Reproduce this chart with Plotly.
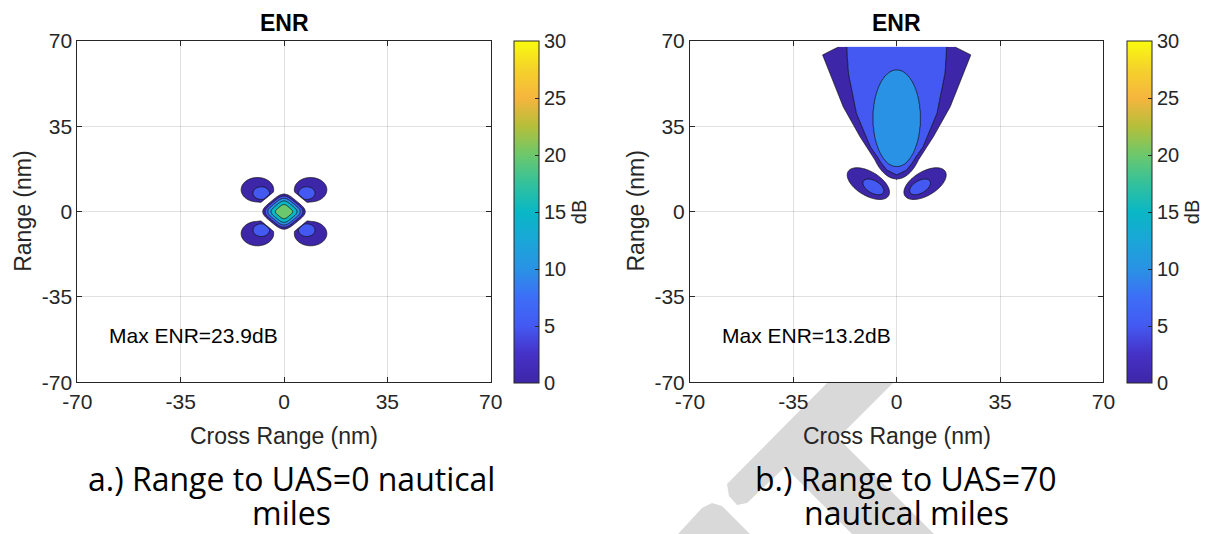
import numpy as np
import plotly.graph_objects as go

W, H = 1205, 534

# ---------------- values ----------------
AXIS_TICKS = [-70, -35, 0, 35, 70]
AXIS_TICK_TEXT = ["-70", "-35", "0", "35", "70"]
CB_TICKS = [0, 5, 10, 15, 20, 25, 30]
CB_RANGE = [0, 30]
LEVEL_START, LEVEL_END, LEVEL_STEP = 0, 25, 5
MAX_ENR_DB = [23.9, 13.2]
PANEL_TITLES = ["ENR", "ENR"]
CAPTION_A = ["a.) Range to UAS=0 nautical", "miles"]
CAPTION_B = ["b.) Range to UAS=70", "nautical miles"]

# parula colour anchors (dB value, colour)
PARULA_DB = [0, 2.5, 5, 7.5, 10, 12.5, 15, 17.5, 20, 22.5, 25, 27.5, 30]
PARULA_HEX = ["#3e26a8", "#4531c6", "#4459f2", "#3d6ef8", "#2a92e4", "#1aa6d8",
              "#09b7c5", "#33c19c", "#6cc86c", "#b5bf3a", "#f6b53e", "#f5d22b", "#f9fb0e"]

# panel a (UAS at 0 nm): diamond main lobe
A_MAIN_PEAK = 23.9
A_MAIN_EDGE = 6.05
A_MAIN_SQUARENESS = 4
# panel a: four diagonal side lobes
A_LOBE_CX = [9.0, -9.0, -9.0, 9.0]
A_LOBE_CY = [9.0, 9.0, -9.0, -9.0]
A_LOBE_RX, A_LOBE_RY, A_LOBE_PEAK = 5.5, 5.0, 4.5
A_SPOT_CX = [7.7, -7.7, -7.7, 7.7]
A_SPOT_CY = [7.6, 7.6, -7.6, -7.6]
A_SPOT_RX5, A_SPOT_RY5, A_SPOT_PEAK = 2.8, 2.6, 9.5
A_LOBE_CUT = 8.2

# panel b (UAS at 70 nm): shield-shaped main beam
B_Y_0DB = [13.2, 17.0, 21.1, 30.7, 43.0, 56.7, 64.3, 67.7]
B_HALFW_0DB = [0.0, 4.6, 7.3, 12.4, 18.1, 22.6, 25.1, 19.5]
B_Y_5DB = [15.0, 17.0, 26.6, 40.3, 56.7, 67.7]
B_HALFW_5DB = [0.0, 3.4, 9.0, 13.7, 16.4, 17.0]
B_Y_AXIS = [0.0, 13.2, 15.0, 20.0, 67.7]
B_ENR_AXIS = [-15.0, 0.0, 5.0, 9.5, 9.5]
B_CORE_CY, B_CORE_RX, B_CORE_RY, B_CORE_PEAK = 38.3, 8.1, 19.9, 13.2
# panel b: two lower side lobes
B_LOBE_CX = [-9.6, 9.6]
B_LOBE_CY = [11.5, 11.5]
B_LOBE_ANG = [-40, 40]
B_LOBE_A, B_LOBE_B, B_LOBE_PEAK = 8.5, 4.6, 4.5
B_SPOT_CX = [-7.9, 7.9]
B_SPOT_CY = [10.15, 10.15]
B_SPOT_A5, B_SPOT_B5, B_SPOT_PEAK = 4.15, 2.4, 9.5
B_Y_TOP = 67.7

# watermark pieces (pixel outline)
WM_POLYS = [
    [(827, 383), (893, 383), (838, 438), (934, 534), (852, 534), (785, 467),
     (747, 503), (737, 505), (729, 496), (727, 484)],
    [(678, 534), (702, 508), (712, 503), (722, 506), (750, 534)],
]

FONT = "Liberation Sans, Arial, sans-serif"
CAP_FONT = "Open Sans, Noto Sans, sans-serif"
TXT = "#262626"


def parula(v):
    t = np.interp(v, PARULA_DB, np.arange(len(PARULA_DB)))
    i = int(min(np.floor(t), len(PARULA_HEX) - 2))
    f = t - i
    c0 = np.array([int(PARULA_HEX[i][k:k + 2], 16) for k in (1, 3, 5)])
    c1 = np.array([int(PARULA_HEX[i + 1][k:k + 2], 16) for k in (1, 3, 5)])
    c = np.round(c0 + (c1 - c0) * f).astype(int)
    return f"rgb({c[0]},{c[1]},{c[2]})"


PARULA_CS = [[d / CB_RANGE[1], h] for d, h in zip(PARULA_DB, PARULA_HEX)]
levels = list(range(LEVEL_START, LEVEL_END + 1, LEVEL_STEP))
nc = len(levels)
FILL_CS = [[0.0, "rgba(255,255,255,0)"]] + [[(k + 1) / nc, parula(lv)] for k, lv in enumerate(levels)]


def ellipse_field(X, Y, cx, cy, a, b, peak, ang_deg=0.0):
    t = np.deg2rad(ang_deg)
    dx, dy = X - cx, Y - cy
    u = dx * np.cos(t) + dy * np.sin(t)
    v = -dx * np.sin(t) + dy * np.cos(t)
    return peak * (1 - (u / a) ** 2 - (v / b) ** 2)


def zero_radius(r5, peak):
    return r5 / np.sqrt(1 - 5.0 / peak)


# ---------------- panel a field ----------------
xa = np.round(np.arange(-18, 18.0001, 0.15), 3)
ya = np.round(np.arange(-18, 18.0001, 0.15), 3)
XA, YA = np.meshgrid(xa, ya)
U = (XA + YA) / np.sqrt(2)
V = (XA - YA) / np.sqrt(2)
n = A_MAIN_SQUARENESS
R = (np.abs(U) ** n + np.abs(V) ** n) ** (1.0 / n)
za = A_MAIN_PEAK * (1 - (R / A_MAIN_EDGE) ** 2)
for k in range(4):
    lobe = ellipse_field(XA, YA, A_LOBE_CX[k], A_LOBE_CY[k], A_LOBE_RX, A_LOBE_RY, A_LOBE_PEAK)
    spot = ellipse_field(XA, YA, A_SPOT_CX[k], A_SPOT_CY[k],
                         zero_radius(A_SPOT_RX5, A_SPOT_PEAK), zero_radius(A_SPOT_RY5, A_SPOT_PEAK),
                         A_SPOT_PEAK)
    d = (XA * np.sign(A_LOBE_CX[k]) + YA * np.sign(A_LOBE_CY[k])) / np.sqrt(2)
    side = np.minimum(np.maximum(lobe, spot), 20 * (d - A_LOBE_CUT))
    za = np.maximum(za, side)
za = np.round(np.maximum(za, -20), 2)

# ---------------- panel b field ----------------
xb = np.round(np.arange(-30, 30.0001, 0.25), 3)
yb = np.round(np.arange(0.1, B_Y_TOP + 0.001, 0.25), 3)
XB, YB = np.meshgrid(xb, yb)
AX = np.abs(XB)
W0 = np.interp(YB, B_Y_0DB, B_HALFW_0DB, left=0.0)
W5 = np.interp(YB, B_Y_5DB, B_HALFW_5DB, left=0.0)
C = np.interp(YB, B_Y_AXIS, B_ENR_AXIS)
eps = 1e-6
inner = C - (C - 5) * AX / np.maximum(W5, eps)
outer = 5 * (W0 - AX) / np.maximum(W0 - W5, eps)
hi = np.where(AX < W5, inner, outer)
mid = C * (1 - AX / np.maximum(W0, eps))
lo = C - AX
zb = np.where(C > 5, hi, np.where(C > 0, mid, lo))
q = (XB / B_CORE_RX) ** 2 + ((YB - B_CORE_CY) / B_CORE_RY) ** 2
core = np.where(q <= 1, 10 + (B_CORE_PEAK - 10) * (1 - q), 10 - 40 * (np.sqrt(q) - 1))
zb = np.maximum(zb, core)
for k in range(2):
    lobe = ellipse_field(XB, YB, B_LOBE_CX[k], B_LOBE_CY[k], B_LOBE_A, B_LOBE_B, B_LOBE_PEAK, B_LOBE_ANG[k])
    spot = ellipse_field(XB, YB, B_SPOT_CX[k], B_SPOT_CY[k],
                         zero_radius(B_SPOT_A5, B_SPOT_PEAK), zero_radius(B_SPOT_B5, B_SPOT_PEAK),
                         B_SPOT_PEAK, B_LOBE_ANG[k])
    zb = np.maximum(zb, np.maximum(lobe, spot))
zb = np.round(np.maximum(zb, -20), 2)

# ---------------- figure ----------------
fig = go.Figure()
contour_style = dict(
    contours=dict(start=LEVEL_START, end=LEVEL_END, size=LEVEL_STEP, coloring="fill", showlines=True),
    autocontour=False, colorscale=FILL_CS, showscale=False,
    line=dict(color="#141414", width=0.8), hoverinfo="skip",
)
fig.add_trace(go.Contour(x=xa, y=ya, z=za.tolist(), xaxis="x", yaxis="y", **contour_style))
fig.add_trace(go.Contour(x=xb, y=yb, z=zb.tolist(), xaxis="x2", yaxis="y2", **contour_style))

PLOT_L = [77.3, 690.0]
PLOT_R = [490.7, 1103.4]
PLOT_T, PLOT_B = 41.0, 382.3
CB_X = [514.0, 1126.7]

for i, (xr, yr) in enumerate([("x", "y"), ("x2", "y2")]):
    fig.add_trace(go.Scatter(
        x=[None], y=[None], xaxis=xr, yaxis=yr, mode="markers", showlegend=False, hoverinfo="skip",
        marker=dict(color=[0], cmin=CB_RANGE[0], cmax=CB_RANGE[1], colorscale=PARULA_CS, showscale=True,
                    colorbar=dict(
                        x=CB_X[i] / W, xanchor="left", xpad=0, xref="paper",
                        y=1 - (PLOT_B + 0.7) / H, yanchor="bottom", ypad=0, yref="paper",
                        len=(PLOT_B - PLOT_T + 1) / H, lenmode="fraction",
                        thickness=25, thicknessmode="pixels",
                        outlinewidth=1, outlinecolor=TXT,
                        tickvals=CB_TICKS, ticktext=[str(t) for t in CB_TICKS],
                        ticks="inside", ticklen=4, tickcolor=TXT, tickwidth=1,
                        tickfont=dict(family=FONT, size=20, color=TXT),
                        title=dict(text="dB", side="right", font=dict(family=FONT, size=20, color=TXT)),
                    ))))

axis_common = dict(
    range=[-70, 70], tickmode="array", tickvals=AXIS_TICKS, ticktext=AXIS_TICK_TEXT,
    ticks="inside", ticklen=5, tickwidth=1, tickcolor=TXT,
    showline=True, linecolor=TXT, linewidth=1, mirror="ticks",
    showgrid=True, gridcolor="rgba(38,38,38,0.14)", gridwidth=1, zeroline=False,
    layer="above traces",
    tickfont=dict(family=FONT, size=21, color=TXT), fixedrange=True,
)
ydom = [1 - PLOT_B / H, 1 - PLOT_T / H]
fig.update_layout(
    width=W, height=H,
    margin=dict(l=0, r=0, t=0, b=0, autoexpand=False),
    paper_bgcolor="white", plot_bgcolor="white",
    showlegend=False, hovermode=False,
    xaxis=dict(domain=[PLOT_L[0] / W, PLOT_R[0] / W], anchor="y", **axis_common),
    yaxis=dict(domain=ydom, anchor="x", **axis_common),
    xaxis2=dict(domain=[PLOT_L[1] / W, PLOT_R[1] / W], anchor="y2", **axis_common),
    yaxis2=dict(domain=ydom, anchor="x2", **axis_common),
)

# watermark
shapes = []
for poly in WM_POLYS:
    path = "M " + " L ".join(f"{x / W:.5f},{1 - y / H:.5f}" for x, y in poly) + " Z"
    shapes.append(dict(type="path", path=path, xref="paper", yref="paper",
                       fillcolor="#d9d9d9", line=dict(width=0), layer="below"))
fig.update_layout(shapes=shapes)

ann = []
centers = [(PLOT_L[i] + PLOT_R[i]) / 2 for i in range(2)]
for i in range(2):
    cx = centers[i]
    ann.append(dict(text=f"<b>{PANEL_TITLES[i]}</b>", x=cx / W, y=1 - 23 / H, xref="paper", yref="paper",
                    showarrow=False, xanchor="center", yanchor="middle",
                    font=dict(family=FONT, size=23, color="black")))
    ann.append(dict(text="Cross Range (nm)", x=cx / W, y=1 - 436 / H, xref="paper", yref="paper",
                    showarrow=False, xanchor="center", yanchor="middle",
                    font=dict(family=FONT, size=23, color=TXT)))
    ann.append(dict(text="Range (nm)", x=(PLOT_L[i] - 55) / W, y=1 - 211.5 / H, xref="paper", yref="paper",
                    showarrow=False, xanchor="center", yanchor="middle", textangle=-90,
                    font=dict(family=FONT, size=23, color=TXT)))
    xr = "x" if i == 0 else "x2"
    yr = "y" if i == 0 else "y2"
    ann.append(dict(text=f"Max ENR={MAX_ENR_DB[i]}dB", x=-60, y=-51, xref=xr, yref=yr,
                    showarrow=False, xanchor="left", yanchor="middle",
                    font=dict(family=FONT, size=21, color="black")))

CAP_X = [291, 906]
CAP_Y = [478, 512]
for i, cap in enumerate([CAPTION_A, CAPTION_B]):
    for j, line in enumerate(cap):
        ann.append(dict(text=line, x=CAP_X[i] / W, y=1 - CAP_Y[j] / H, xref="paper", yref="paper",
                        showarrow=False, xanchor="center", yanchor="middle", borderpad=0,
                        font=dict(family=CAP_FONT, size=32, color="black")))
fig.update_layout(annotations=ann)

fig.write_html("out.html", config={"displayModeBar": False, "staticPlot": True},
               post_script="document.body.style.margin='0';document.body.style.overflow='hidden';")
